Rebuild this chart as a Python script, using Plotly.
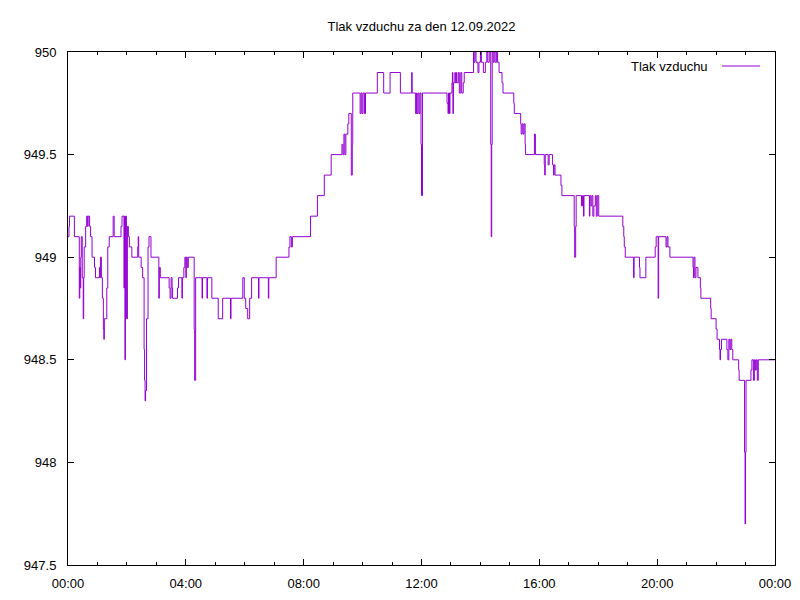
import pandas as pd
import plotly.graph_objects as go

# minutes after midnight of 12.09.2022 and pressure value [hPa] (value holds until next point)
minutes = [
    0, 2, 3, 13, 23, 24, 25, 26, 27, 29, 31, 32, 33, 36, 38, 40, 41, 44, 46, 49,
    54, 56, 64, 65, 66, 68, 70, 72, 73, 74, 79, 81, 84, 92, 94, 108, 110, 114, 115, 116,
    117, 119, 121, 123, 125, 130, 142, 143, 144, 149, 152, 155, 156, 157, 158, 160, 163, 165, 169, 185,
    186, 188, 206, 208, 210, 212, 213, 223, 225, 232, 233, 236, 238, 240, 241, 243, 245, 257, 258, 260,
    273, 274, 283, 284, 293, 306, 315, 331, 332, 356, 359, 362, 366, 370, 374, 388, 389, 408, 409, 424,
    450, 452, 455, 457, 494, 508, 522, 536, 558, 560, 562, 564, 566, 570, 572, 577, 579, 580, 595, 597,
    599, 601, 604, 606, 630, 643, 656, 677, 700, 701, 708, 710, 711, 713, 715, 717, 719, 720, 722, 772,
    774, 775, 777, 778, 782, 783, 784, 785, 788, 789, 791, 792, 795, 797, 800, 802, 805, 807, 826, 827,
    829, 831, 835, 837, 840, 842, 846, 850, 853, 855, 858, 861, 862, 863, 864, 866, 868, 870, 873, 875,
    878, 884, 886, 908, 909, 922, 923, 925, 927, 929, 931, 932, 950, 952, 970, 971, 972, 978, 980, 987,
    989, 990, 992, 1004, 1006, 1031, 1032, 1034, 1035, 1046, 1048, 1050, 1051, 1062, 1063, 1065, 1067, 1069, 1071, 1074,
    1076, 1078, 1081, 1130, 1132, 1133, 1135, 1152, 1153, 1164, 1165, 1177, 1196, 1198, 1202, 1203, 1218, 1220, 1222, 1226,
    1273, 1274, 1275, 1277, 1279, 1283, 1288, 1289, 1309, 1310, 1320, 1322, 1327, 1328, 1329, 1331, 1342, 1344, 1346, 1348,
    1350, 1352, 1354, 1366, 1367, 1378, 1379, 1380, 1381, 1391, 1393, 1396, 1398, 1400, 1402, 1404, 1406, 1440,
]
pressure = [
    949.1, 949.15, 949.2, 949.1, 948.8, 948.95, 948.85, 949.0, 949.1, 948.9, 948.7, 948.9, 949.05, 949.15, 949.2, 949.15, 949.2, 949.15, 949.1, 949.0,
    948.95, 948.9, 948.95, 948.9, 949.0, 948.9, 948.8, 948.65, 948.6, 948.7, 948.85, 949.05, 949.1, 949.2, 949.1, 949.15, 949.2, 948.85, 949.2, 948.5,
    949.2, 948.7, 949.15, 949.1, 949.05, 949.0, 949.05, 949.1, 949.0, 948.95, 948.9, 948.55, 948.4, 948.3, 948.35, 948.7, 949.05, 949.1, 949.0, 948.8,
    948.95, 948.9, 948.85, 948.8, 948.9, 948.85, 948.8, 948.85, 948.9, 948.8, 948.9, 948.95, 949.0, 948.9, 949.0, 948.95, 949.0, 948.65, 948.4, 948.9,
    948.8, 948.9, 948.8, 948.9, 948.8, 948.7, 948.8, 948.7, 948.8, 948.9, 948.8, 948.75, 948.7, 948.8, 948.9, 948.8, 948.9, 948.8, 948.9, 949.0,
    949.05, 949.1, 949.05, 949.1, 949.2, 949.3, 949.4, 949.5, 949.55, 949.5, 949.6, 949.5, 949.6, 949.65, 949.7, 949.4, 949.55, 949.8, 949.7, 949.8,
    949.7, 949.8, 949.7, 949.8, 949.9, 949.8, 949.9, 949.8, 949.9, 949.8, 949.7, 949.8, 949.7, 949.8, 949.7, 949.8, 949.55, 949.3, 949.8, 949.75,
    949.7, 949.8, 949.7, 949.8, 949.85, 949.9, 949.7, 949.85, 949.9, 949.85, 949.9, 949.85, 949.9, 949.8, 949.9, 949.8, 949.85, 949.9, 950.0, 949.95,
    950.0, 949.95, 949.9, 949.95, 950.0, 949.95, 949.9, 949.95, 950.0, 949.95, 950.0, 949.55, 949.1, 949.55, 950.0, 949.95, 950.0, 949.95, 950.0, 949.95,
    949.9, 949.85, 949.8, 949.75, 949.7, 949.65, 949.6, 949.65, 949.6, 949.65, 949.55, 949.5, 949.6, 949.5, 949.45, 949.4, 949.5, 949.45, 949.5, 949.45,
    949.4, 949.45, 949.4, 949.35, 949.3, 949.15, 949.0, 949.15, 949.3, 949.25, 949.3, 949.2, 949.3, 949.2, 949.3, 949.25, 949.3, 949.2, 949.25, 949.3,
    949.2, 949.3, 949.2, 949.15, 949.1, 949.05, 949.0, 948.9, 949.0, 948.95, 948.9, 949.0, 949.05, 949.1, 948.8, 949.1, 949.05, 949.1, 949.05, 949.0,
    948.95, 948.9, 949.0, 948.9, 948.95, 948.9, 948.85, 948.8, 948.75, 948.7, 948.65, 948.6, 948.55, 948.5, 948.55, 948.6, 948.55, 948.5, 948.6, 948.55,
    948.6, 948.55, 948.5, 948.45, 948.4, 948.05, 947.7, 948.05, 948.4, 948.45, 948.5, 948.4, 948.5, 948.45, 948.5, 948.4, 948.5, 948.5,
]

y_ticks = [947.5, 948, 948.5, 949, 949.5, 950]
y_labels = ["947.5", "948", "948.5", "949", "949.5", "950"]

title_text = "Tlak vzduchu za den 12.09.2022"
series_name = "Tlak vzduchu"
day = pd.Timestamp("2022-09-12")
times = [day + pd.Timedelta(minutes=m) for m in minutes]

LINE_COLOR = "#9400D3"
FONT = "Liberation Sans, Arial, sans-serif"

# the page puts the figure 8px in from the top-left corner, so size it to fill the rest
W, H = 792, 592
fig = go.Figure()
fig.add_trace(go.Scatter(
    x=times, y=pressure, mode="lines", line=dict(color=LINE_COLOR, width=1, shape="hv"),
    name=series_name, showlegend=False,
))

fig.update_layout(
    width=W, height=H,
    margin=dict(l=60, r=25, t=44, b=35, autoexpand=False),
    paper_bgcolor="white", plot_bgcolor="white",
    font=dict(family=FONT, size=13, color="black"),
    title=dict(text=title_text, x=0.5, xref="paper", y=1 - 18 / H, yref="container",
               xanchor="center", yanchor="middle", font=dict(size=13, color="black")),
)

fig.update_xaxes(
    type="date",
    range=[day, day + pd.Timedelta(days=1)],
    tick0=day, dtick=4 * 3600 * 1000, tickformat="%H:%M",
    ticks="inside", ticklen=6, tickcolor="black", tickwidth=1,
    minor=dict(ticks="inside", ticklen=3, dtick=3600 * 1000, tickcolor="black", showgrid=False),
    showline=True, linecolor="black", linewidth=1, mirror="ticks",
    showgrid=False, zeroline=False, ticklabelstandoff=6,
)
fig.update_yaxes(
    range=[947.5, 950], tickvals=y_ticks, ticktext=y_labels,
    ticks="inside", ticklen=6, tickcolor="black", tickwidth=1,
    showline=True, linecolor="black", linewidth=1, mirror="ticks",
    showgrid=False, zeroline=False, ticklabelstandoff=8,
)

# gnuplot-style key: text on the left, line sample on the right
key_y = 1 - (66 - 52) / 513
fig.add_annotation(
    text=series_name, xref="paper", yref="paper",
    x=(710 - 68) / 707, y=key_y, xanchor="right", yanchor="middle",
    showarrow=False, font=dict(size=13, color="black"),
)
fig.add_shape(
    type="line", xref="paper", yref="paper",
    x0=(722 - 68) / 707, x1=(760 - 68) / 707, y0=key_y, y1=key_y,
    line=dict(color=LINE_COLOR, width=1),
)

fig.write_html("out.html")
